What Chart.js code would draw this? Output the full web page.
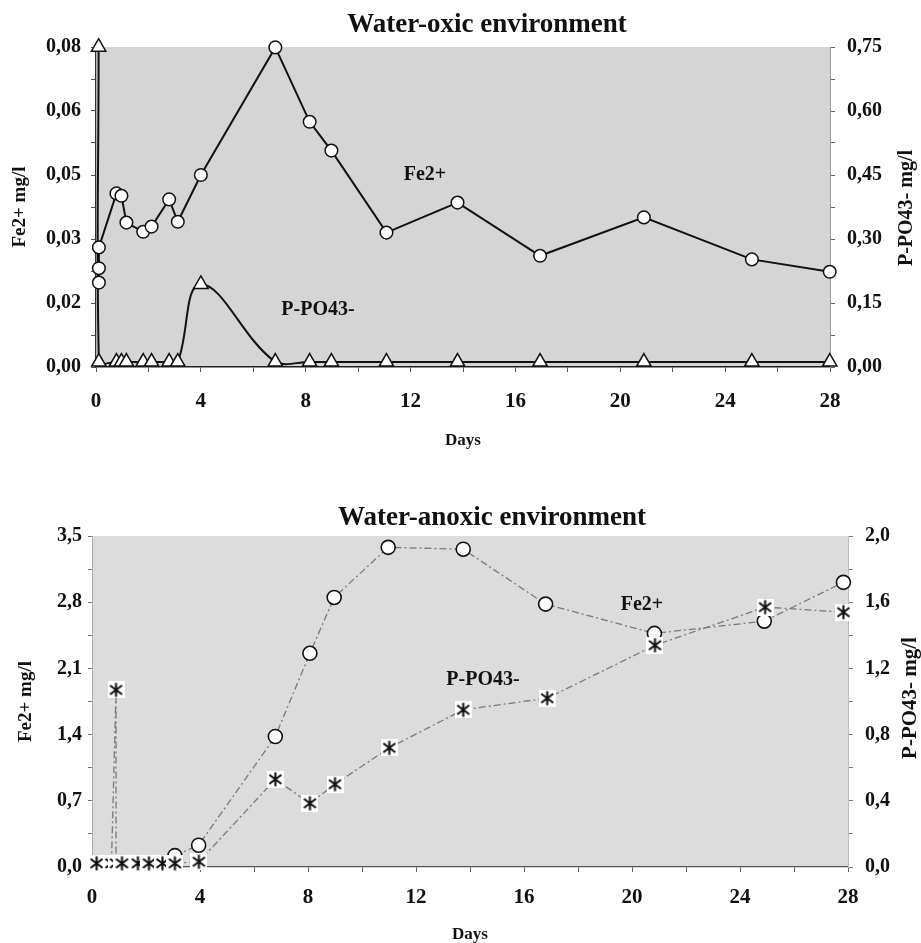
<!DOCTYPE html>
<html><head><meta charset="utf-8">
<script src="https://cdn.jsdelivr.net/npm/chart.js@4.4.0/dist/chart.umd.min.js"></script>
<style>
html,body{margin:0;padding:0;background:#fff;overflow:hidden;width:921px;height:943px;}
#c1{position:absolute;left:0;top:0;}
#c2{position:absolute;left:0;top:460px;}
</style></head><body>
<canvas id="c1" width="921" height="460"></canvas>
<canvas id="c2" width="921" height="500"></canvas>
<script>
// ---------- DATA ----------
// Top chart: Water-oxic environment
const oxicFeDays = [0.11,0.11,0.11,0.78,0.97,1.16,1.80,2.12,2.79,3.12,4.0,6.84,8.15,8.98,11.08,13.79,16.94,20.9,25.02,27.99];
const oxicFe     = [0.0211,0.0247,0.0299,0.0434,0.0428,0.0361,0.0338,0.0351,0.0419,0.0363,0.048,0.0799,0.0613,0.0541,0.0336,0.0411,0.0278,0.0374,0.0269,0.0238];
const oxicPDays  = [0.10,0.11,0.78,0.97,1.16,1.80,2.12,2.79,3.12,4.0,6.84,8.15,8.98,11.08,13.79,16.94,20.9,25.02,27.99];
const oxicP      = [0.75,0.012,0.012,0.012,0.012,0.012,0.012,0.012,0.012,0.194,0.012,0.012,0.012,0.012,0.012,0.012,0.012,0.012,0.012];

// Bottom chart: Water-anoxic environment
const anoxicFeDays = [3.07,3.95,6.79,8.07,8.97,10.97,13.75,16.8,20.83,24.9,27.83];
const anoxicFe     = [0.12,0.23,1.38,2.26,2.85,3.38,3.36,2.78,2.47,2.6,3.01];
const anoxicPDays  = [0.17,0.72,0.89,0.89,1.11,1.70,2.11,2.61,3.07,3.96,6.79,8.07,9.0,11.01,13.75,16.86,20.85,24.93,27.83];
const anoxicP      = [0.022,0.022,1.07,0.022,0.022,0.022,0.022,0.022,0.022,0.032,0.53,0.385,0.50,0.72,0.95,1.02,1.34,1.57,1.54];

// Tick labels (major), minor ticks sit between them
const dayTickLabels      = ['0','4','8','12','16','20','24','28'];
const oxicFeTickLabels   = ['0,00','0,02','0,03','0,05','0,06','0,08'];
const oxicPTickLabels    = ['0,00','0,15','0,30','0,45','0,60','0,75'];
const anoxicFeTickLabels = ['0,0','0,7','1,4','2,1','2,8','3,5'];
const anoxicPTickLabels  = ['0,0','0,4','0,8','1,2','1,6','2,0'];

// ---------- HELPERS ----------
const FONT = "'Liberation Serif','Times New Roman',serif";
Chart.defaults.font.family = FONT;
Chart.defaults.font.weight = 'bold';
Chart.defaults.color = '#111';

function pts(xs, ys){ return xs.map((x,i)=>({x:x, y:ys[i]})); }
function tickSetter(max, labels){
  const n = (labels.length - 1) * 2;
  return function(s){ const t=[]; for(let i=0;i<=n;i++){ t.push({value: max*i/n}); } s.ticks = t; };
}
function labelCb(labels){ return (v,i)=> (i%2===0 ? labels[i/2] : ''); }

const bgPlugin = {
  id:'bg',
  beforeDraw(chart, a, o){
    const {ctx, chartArea:c} = chart;
    ctx.save(); ctx.fillStyle = o.color; ctx.fillRect(c.left, c.top, c.right-c.left, c.bottom-c.top); ctx.restore();
  }
};
const textPlugin = {
  id:'texts',
  afterDraw(chart, a, o){
    const ctx = chart.ctx;
    ctx.save();
    ctx.fillStyle = '#111';
    ctx.textAlign = 'center'; ctx.textBaseline = 'middle';
    for(const t of o.items){
      ctx.save();
      ctx.font = t.font;
      ctx.translate(t.x, t.y);
      if(t.rot) ctx.rotate(t.rot);
      ctx.fillText(t.text, 0, 0);
      ctx.restore();
    }
    ctx.restore();
  }
};

function makeStar(){
  const S = 17;
  const c = document.createElement('canvas'); c.width = S; c.height = S;
  const g = c.getContext('2d');
  g.fillStyle = '#fff'; g.fillRect(0,0,S,S);
  g.strokeStyle = '#111'; g.lineWidth = 2.1;
  g.beginPath();
  g.moveTo(2.5,4); g.lineTo(14.5,13);
  g.moveTo(14.5,4); g.lineTo(2.5,13);
  g.moveTo(8.5,1.5); g.lineTo(8.5,15.5);
  g.stroke();
  return c;
}

const tickFont = {family:FONT, size:20, weight:'bold'};
const xTickFont = {family:FONT, size:21, weight:'bold'};

// ---------- TOP CHART ----------
new Chart(document.getElementById('c1'), {
  type:'line',
  data:{ datasets:[
    { label:'Fe2+', data: pts(oxicFeDays, oxicFe), yAxisID:'yL',
      borderColor:'#111', borderWidth:2, tension:0,
      pointRadius:6.3, pointBackgroundColor:'#fff', pointBorderColor:'#111', pointBorderWidth:1.5, clip:false },
    { label:'P-PO43-', data: pts(oxicPDays, oxicP), yAxisID:'yR',
      borderColor:'#111', borderWidth:2, tension:0.4,
      pointStyle:'triangle', pointRadius:8.3, pointBackgroundColor:'#fff', pointBorderColor:'#111', pointBorderWidth:1.5, clip:false }
  ]},
  options:{
    responsive:false, animation:false, devicePixelRatio:1,
    layout:{padding:{top:47,left:0,right:0,bottom:0}},
    plugins:{ legend:{display:false}, tooltip:{enabled:false}, title:{display:false},
      bg:{color:'#d5d5d5'},
      texts:{items:[
        {text:'Water-oxic environment', x:487, y:25, font:"bold 27px "+FONT},
        {text:'P-PO43- mg/l', x:907, y:208, rot:-Math.PI/2, font:"bold 20px "+FONT},
        {text:'Fe2+', x:425, y:175, font:"bold 20px "+FONT},
        {text:'P-PO43-', x:318, y:310, font:"bold 20px "+FONT}
      ]}
    },
    scales:{
      x:{ type:'linear', min:0, max:28,
        afterBuildTicks: tickSetter(28, dayTickLabels),
        afterFit: s=>{ s.height = 93; },
        ticks:{ callback: labelCb(dayTickLabels), autoSkip:false, maxRotation:0, padding:17, font:xTickFont, color:'#111' },
        grid:{ drawOnChartArea:false, drawTicks:true, tickLength:5, color:'#555' },
        border:{ display:true, color:'#222', width:1.5 },
        title:{ display:true, text:'Days', font:{family:FONT,size:17,weight:'bold'}, color:'#111', padding:{top:0,bottom:9} }
      },
      yL:{ type:'linear', position:'left', min:0, max:0.08,
        afterBuildTicks: tickSetter(0.08, oxicFeTickLabels),
        afterFit: s=>{ s.width = 96; },
        ticks:{ callback: labelCb(oxicFeTickLabels), autoSkip:false, padding:10, font:tickFont, color:'#111' },
        grid:{ drawOnChartArea:false, drawTicks:true, tickLength:5, color:'#555' },
        border:{ display:true, color:'#333', width:1.2 },
        title:{ display:true, text:'Fe2+ mg/l', font:{family:FONT,size:19,weight:'bold'}, color:'#111', padding:{top:9,bottom:0} }
      },
      yR:{ type:'linear', position:'right', min:0, max:0.75,
        afterBuildTicks: tickSetter(0.75, oxicPTickLabels),
        afterFit: s=>{ s.width = 91; },
        ticks:{ callback: labelCb(oxicPTickLabels), autoSkip:false, padding:12, font:tickFont, color:'#111' },
        grid:{ drawOnChartArea:false, drawTicks:true, tickLength:5, color:'#666' },
        border:{ display:true, color:'#999', width:1 }
      }
    }
  },
  plugins:[bgPlugin, textPlugin]
});

// ---------- BOTTOM CHART ----------
const star = makeStar();
new Chart(document.getElementById('c2'), {
  type:'line',
  data:{ datasets:[
    { label:'P-PO43-', data: pts(anoxicPDays, anoxicP), yAxisID:'yR',
      borderColor:'#7a7a7a', borderWidth:1.3, borderDash:[7,3,2,3], tension:0,
      pointStyle: star, pointRadius:8, clip:false },
    { label:'Fe2+', data: pts(anoxicFeDays, anoxicFe), yAxisID:'yL',
      borderColor:'#7a7a7a', borderWidth:1.3, borderDash:[7,3,2,3], tension:0,
      pointRadius:7, pointBackgroundColor:'#fff', pointBorderColor:'#111', pointBorderWidth:1.6, clip:false }
  ]},
  options:{
    responsive:false, animation:false, devicePixelRatio:1,
    layout:{padding:{top:76,left:0,right:0,bottom:0}},
    plugins:{ legend:{display:false}, tooltip:{enabled:false}, title:{display:false},
      bg:{color:'#dcdcdc'},
      texts:{items:[
        {text:'Water-anoxic environment', x:492, y:58, font:"bold 27px "+FONT},
        {text:'P-PO43- mg/l', x:911, y:238, rot:-Math.PI/2, font:"bold 21px "+FONT},
        {text:'Fe2+', x:642, y:145, font:"bold 20px "+FONT},
        {text:'P-PO43-', x:483, y:220, font:"bold 20px "+FONT}
      ]}
    },
    scales:{
      x:{ type:'linear', min:0, max:28,
        afterBuildTicks: tickSetter(28, dayTickLabels),
        afterFit: s=>{ s.height = 93; },
        ticks:{ callback: labelCb(dayTickLabels), autoSkip:false, maxRotation:0, padding:13, font:xTickFont, color:'#111' },
        grid:{ drawOnChartArea:false, drawTicks:true, tickLength:5, color:'#666' },
        border:{ display:true, color:'#555', width:1.3, dash:[6,3] },
        title:{ display:true, text:'Days', font:{family:FONT,size:17,weight:'bold'}, color:'#111', padding:{top:0,bottom:15} }
      },
      yL:{ type:'linear', position:'left', min:0, max:3.5,
        afterBuildTicks: tickSetter(3.5, anoxicFeTickLabels),
        afterFit: s=>{ s.width = 92; },
        ticks:{ callback: labelCb(anoxicFeTickLabels), autoSkip:false, padding:6, font:tickFont, color:'#111' },
        grid:{ drawOnChartArea:false, drawTicks:true, tickLength:4, color:'#777' },
        border:{ display:true, color:'#aaa', width:1, dash:[2,2] },
        title:{ display:true, text:'Fe2+ mg/l', font:{family:FONT,size:19,weight:'bold'}, color:'#111', padding:{top:15,bottom:0} }
      },
      yR:{ type:'linear', position:'right', min:0, max:2.0,
        afterBuildTicks: tickSetter(2.0, anoxicPTickLabels),
        afterFit: s=>{ s.width = 73; },
        ticks:{ callback: labelCb(anoxicPTickLabels), autoSkip:false, padding:12, font:tickFont, color:'#111' },
        grid:{ drawOnChartArea:false, drawTicks:true, tickLength:5, color:'#777' },
        border:{ display:true, color:'#bbb', width:1 }
      }
    }
  },
  plugins:[bgPlugin, textPlugin]
});
</script>
</body></html>
